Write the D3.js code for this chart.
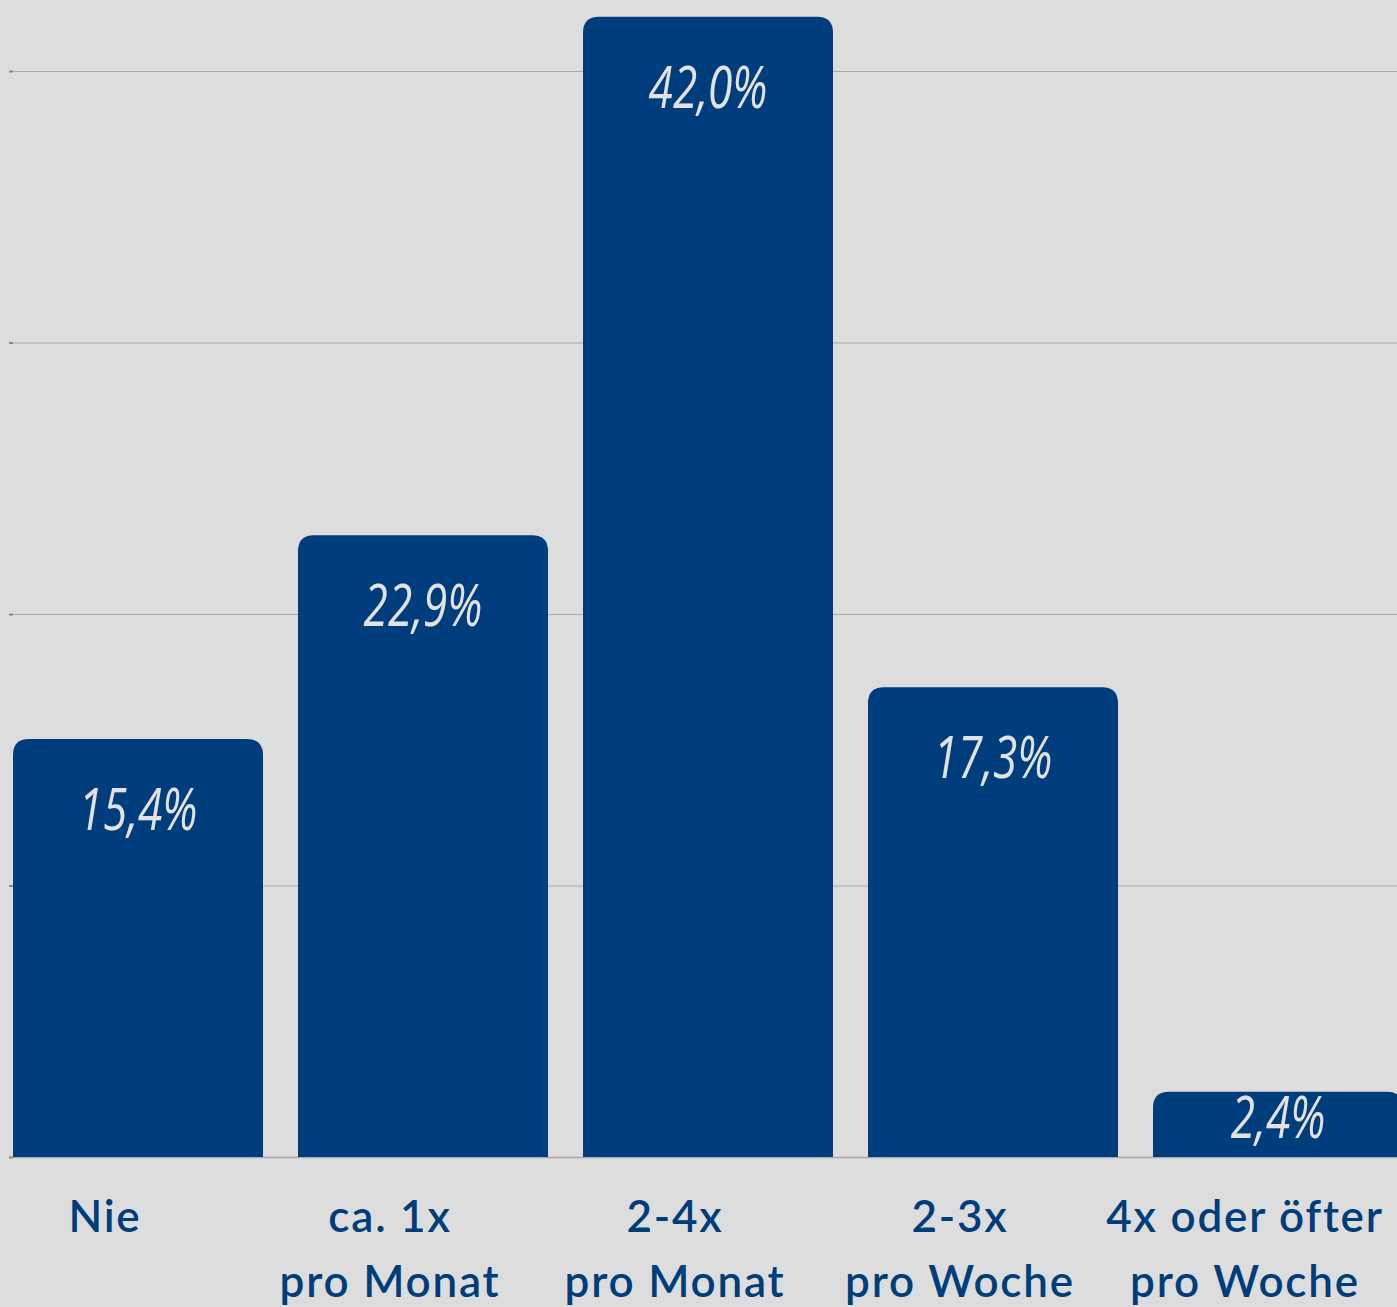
<!DOCTYPE html>
<html>
<head>
<meta charset="utf-8">
<script src="https://cdn.jsdelivr.net/npm/d3@7"></script>
<style>
  html, body { margin: 0; padding: 0; background: #dddddd; overflow: hidden; }
  svg { display: block; }
</style>
</head>
<body>
<div id="chart"></div>
<script>
// data
var categories = [
  ['Nie'],
  ['ca. 1x', 'pro Monat'],
  ['2-4x', 'pro Monat'],
  ['2-3x', 'pro Woche'],
  ['4x oder öfter', 'pro Woche']
];
var values = [15.4, 22.9, 42.0, 17.3, 2.4];
var gridTicks = [0, 10, 20, 30, 40];

var width = 1397, height = 1307;
var barColor = '#003d7c';

var svg = d3.select('#chart')
  .append('svg')
  .attr('width', width)
  .attr('height', height);

svg.append('rect')
  .attr('width', width)
  .attr('height', height)
  .attr('fill', '#dddddd');

// step 285, bar 250 -> last bar runs past the right edge like the original
var x = d3.scaleBand()
  .domain(d3.range(values.length))
  .range([13, 1403])
  .paddingInner(35 / 285)
  .paddingOuter(0);

var y = d3.scaleLinear()
  .domain([0, 40])
  .range([1157, 71]);

// grid
var grid = svg.append('g');
grid.selectAll('line')
  .data(gridTicks)
  .enter().append('line')
  .attr('x1', 10)
  .attr('x2', width)
  .attr('y1', function(d) { return y(d) + 0.5; })
  .attr('y2', function(d) { return y(d) + 0.5; })
  .attr('stroke', '#aaaaaa')
  .attr('stroke-width', function(d) { return d === 0 ? 1.5 : 1; });
grid.selectAll('rect')
  .data(gridTicks)
  .enter().append('rect')
  .attr('x', 9)
  .attr('y', function(d) { return y(d) - 0.5; })
  .attr('width', 4)
  .attr('height', 2)
  .attr('fill', '#888');

// bars with rounded top corners
function barPath(x0, y0, w, h, r) {
  r = Math.min(r, h);
  return 'M' + x0 + ',' + (y0 + h) +
    'V' + (y0 + r) +
    'Q' + x0 + ',' + y0 + ' ' + (x0 + r) + ',' + y0 +
    'H' + (x0 + w - r) +
    'Q' + (x0 + w) + ',' + y0 + ' ' + (x0 + w) + ',' + (y0 + r) +
    'V' + (y0 + h) + 'Z';
}

svg.append('g').selectAll('path')
  .data(values)
  .enter().append('path')
  .attr('d', function(d, i) {
    return barPath(x(i), y(d), x.bandwidth(), y(0) - y(d), 16);
  })
  .attr('fill', barColor);

// value labels (narrow, slanted, like the handwritten original)
svg.append('g').selectAll('text')
  .data(values)
  .enter().append('text')
  .attr('transform', function(d, i) {
    var cx = x(i) + x.bandwidth() / 2;
    var cy = Math.min(y(d) + 91, y(0) - 19);
    return 'translate(' + cx + ',' + cy + ') scale(0.76,1)';
  })
  .attr('text-anchor', 'middle')
  .attr('font-family', "'Open Sans', sans-serif")
  .attr('font-style', 'italic')
  .attr('font-weight', 400)
  .attr('font-size', 58)
  .attr('letter-spacing', 0)
  .attr('fill', '#e2e2e2')
  .text(function(d) { return d.toFixed(1).replace('.', ',') + '%'; });

// category labels
var cat = svg.append('g').selectAll('text')
  .data(categories)
  .enter().append('text')
  .attr('x', function(d, i) { return x(i) + x.bandwidth() / 2 - 33; })
  .attr('y', 1232)
  .attr('text-anchor', 'middle')
  .attr('font-family', "Lato, 'Open Sans', sans-serif")
  .attr('font-weight', 600)
  .attr('font-size', 44)
  .attr('letter-spacing', 1.8)
  .attr('fill', barColor);

cat.selectAll('tspan')
  .data(function(d) { return d; })
  .enter().append('tspan')
  .attr('x', function() { return d3.select(this.parentNode).attr('x'); })
  .attr('dy', function(d, j) { return j === 0 ? 0 : 65; })
  .text(function(d) { return d; });
</script>
</body>
</html>
